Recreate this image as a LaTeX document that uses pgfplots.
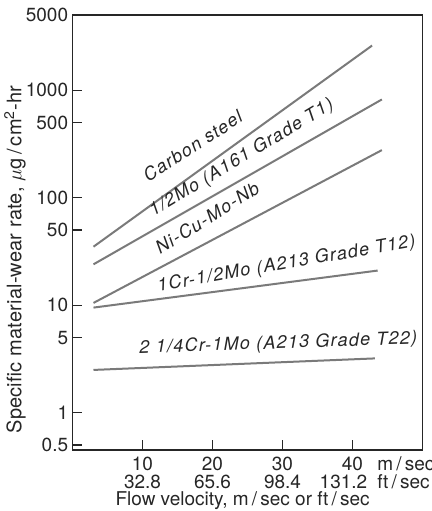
\documentclass[border=0pt]{standalone}
\usepackage{pgfplots}
\pgfplotsset{compat=1.18}
\usepackage{fontspec}
\setmainfont{TeX Gyre Heros}
\newfontfamily\lblfont[LetterSpace=7]{TeX Gyre Heros}
\newfontfamily\ylblfont[LetterSpace=1]{TeX Gyre Heros}
\definecolor{ink}{HTML}{262626}
\definecolor{curve}{HTML}{7A7A7A}
\begin{document}
\begin{tikzpicture}
\begin{axis}[
  at={(0,0)}, anchor=south west, scale only axis,
  width=175pt, height=217.5pt,
  xmin=0, xmax=50, ymode=log, ymin=0.45, ymax=5000,
  axis line style={ink, line width=0.6pt},
  tick style={ink, line width=0.6pt},
  tick align=inside, major tick length=5pt,
  xtick pos=bottom, ytick pos=left,
  xtick={10,20,30,40},
  xticklabels={{10\\32.8},{20\\65.6},{30\\98.4},{40\\\kern-9pt131.2}},
  xticklabel style={align=center, font=\fontsize{9.5}{9}\selectfont, text=ink},
  ytick={0.5,1,5,10,50,100,500,1000,5000},
  yticklabels={0.5,1,5,10,50,100,500,1000,5000},
  yticklabel style={font=\fontsize{9.5}{9}\selectfont, text=ink, inner sep=2pt},
  yminorticks=false,
  clip=false,
]
\addplot[curve, line width=1pt] coordinates {(3,35) (42.8,2600)};
\addplot[curve, line width=1pt] coordinates {(3,24) (44.2,820)};
\addplot[curve, line width=1pt] coordinates {(3,10.5) (44.2,277)};
\addplot[curve, line width=1pt] coordinates {(3,9.5) (43.6,21)};
\addplot[curve, line width=1pt] coordinates {(3,2.5) (43.2,3.2)};

\begin{scope}[every node/.style={font=\lblfont\itshape\fontsize{9}{9}\selectfont, text=ink, inner sep=0pt, anchor=base west}]
\node[rotate=33] at (rel axis cs:0.216,0.614) {Carbon steel};
\node[rotate=31] at (rel axis cs:0.231,0.536) {1/2Mo (A161 Grade T1)};
\node[rotate=32] at (rel axis cs:0.25,0.448) {Ni-Cu-Mo-Nb};
\node[rotate=10] at (rel axis cs:0.245,0.364) {1Cr-1/2Mo (A213 Grade T12)};
\node[rotate=2] at (rel axis cs:0.191,0.222) {2 1/4Cr-1Mo (A213 Grade T22)};
\end{scope}

\node[anchor=north west, align=left, font=\fontsize{9.5}{9}\selectfont, text=ink]
  at ([xshift=-0.333em]rel axis cs:0.87,0) {m\,/\,sec\\ft\,/\,sec};

\node[rotate=90, anchor=base, font=\ylblfont\fontsize{10}{10}\selectfont, text=ink, inner sep=0pt]
  at ([xshift=-25.5pt]rel axis cs:0,0.438) {Specific material-wear rate, $\mu$g\,/\,cm\textsuperscript{2}-hr};
\node[anchor=base, font=\fontsize{9.5}{10}\selectfont, text=ink, inner sep=0pt]
  at ([yshift=-27.5pt]rel axis cs:0.486,0) {Flow velocity, m\,/\,sec or ft\,/\,sec};
\end{axis}
\pgfresetboundingbox
\path[use as bounding box] (-36.25pt,-30.5pt) rectangle (179.75pt,225pt);
\end{tikzpicture}
\end{document}
